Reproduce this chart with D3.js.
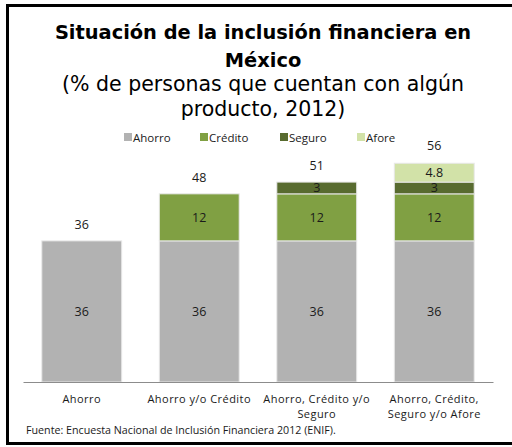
<!DOCTYPE html>
<html>
<head>
<meta charset="utf-8">
<script src="https://cdn.jsdelivr.net/npm/d3@7"></script>
<style>
  body { margin: 0; background: #fff; }
  text { font-family: "Open Sans", "DejaVu Sans", sans-serif; fill: #1a1a1a; }
  .ttl { font-family: "DejaVu Sans", sans-serif; fill: #000; }
</style>
</head>
<body>
<svg id="CHART"></svg>
<script>
// categorias y series
var categories = ["Ahorro", "Ahorro y/o Crédito", "Ahorro, Crédito y/o Seguro", "Ahorro, Crédito, Seguro y/o Afore"];
var categoryLines = [["Ahorro"], ["Ahorro y/o Crédito"], ["Ahorro, Crédito y/o", "Seguro"], ["Ahorro, Crédito,", "Seguro y/o Afore"]];
var seriesNames = ["Ahorro", "Crédito", "Seguro", "Afore"];
var ahorro = [36, 36, 36, 36];
var credito = [0, 12, 12, 12];
var seguro = [0, 0, 3, 3];
var afore = [0, 0, 0, 4.8];
var totals = [36, 48, 51, 56];

var colors = { "Ahorro": "#b2b2b2", "Crédito": "#80a043", "Seguro": "#586b2f", "Afore": "#d2e2a8" };

var width = 512, height = 447;
var svg = d3.select("#CHART").attr("width", width).attr("height", height);

// marco
svg.append("rect")
  .attr("x", 7.5).attr("y", 5.5)
  .attr("width", 520).attr("height", 438)
  .attr("fill", "none").attr("stroke", "#000").attr("stroke-width", 3);

// titulos
var titleLines = ["Situación de la inclusión financiera en", "México"];
var subLines = ["(% de personas que cuentan con algún", "producto, 2012)"];
titleLines.forEach(function (t, i) {
  svg.append("text").attr("class", "ttl").attr("x", 263).attr("y", 39 + i * 28)
    .attr("text-anchor", "middle")
    .style("font-size", "19.4px").style("font-weight", "bold")
    .text(t);
});
subLines.forEach(function (t, i) {
  svg.append("text").attr("class", "ttl").attr("x", 263).attr("y", 91 + i * 25)
    .attr("text-anchor", "middle")
    .style("font-size", "20.5px")
    .text(t);
});

var table = categories.map(function (c, i) {
  return { cat: c, "Ahorro": ahorro[i], "Crédito": credito[i], "Seguro": seguro[i], "Afore": afore[i] };
});
var stacked = d3.stack().keys(seriesNames)(table);

var x = d3.scaleBand().domain(categories).range([23, 493]).paddingInner(0.32).paddingOuter(0.16);
var y = d3.scaleLinear().domain([0, 60]).range([382, 382 - 60 * 3.92]);

var layers = svg.append("g").selectAll("g")
  .data(stacked)
  .join("g")
  .attr("fill", function (d) { return colors[d.key]; });

layers.selectAll("rect")
  .data(function (d) { return d.filter(function (s) { return s[1] - s[0] > 0; }); })
  .join("rect")
  .attr("x", function (d) { return x(d.data.cat); })
  .attr("y", function (d) { return y(d[1]); })
  .attr("width", x.bandwidth())
  .attr("height", function (d) { return y(d[0]) - y(d[1]); })
  .attr("stroke", "#e8e8e8").attr("stroke-width", 1);

layers.selectAll("text")
  .data(function (d) { return d.filter(function (s) { return s[1] - s[0] > 0; }); })
  .join("text")
  .attr("x", function (d) { return x(d.data.cat) + x.bandwidth() / 2; })
  .attr("y", function (d) { return (y(d[0]) + y(d[1])) / 2; })
  .attr("dy", "0.36em")
  .attr("text-anchor", "middle")
  .style("font-size", "12.5px")
  .text(function (d) { return +(d[1] - d[0]).toFixed(1); });

// totales
svg.append("g").selectAll("text")
  .data(totals)
  .join("text")
  .attr("x", function (d, i) { return x(categories[i]) + x.bandwidth() / 2; })
  .attr("y", function (d) { return y(d) - 12; })
  .attr("text-anchor", "middle")
  .style("font-size", "12.5px")
  .text(function (d) { return d; });

// eje x
var axis = svg.append("g").attr("transform", "translate(0,382)")
  .call(d3.axisBottom(x).tickSize(0).tickFormat(""));
axis.select(".domain").attr("stroke", "#8c8c8c").attr("stroke-width", 1);
axis.selectAll(".tick").each(function (c, i) {
  var t = d3.select(this).append("text")
    .attr("text-anchor", "middle")
    .style("font-size", "11px").style("letter-spacing", "0.45px");
  categoryLines[i].forEach(function (line, j) {
    t.append("tspan").attr("x", 0).attr("y", 21 + j * 15).text(line);
  });
});

// leyenda
var legendX = [124, 200, 280, 357];
var legend = svg.append("g").selectAll("g")
  .data(seriesNames)
  .join("g")
  .attr("transform", function (d, i) { return "translate(" + legendX[i] + ",133)"; });
legend.append("rect").attr("width", 8).attr("height", 8)
  .attr("fill", function (d) { return colors[d]; });
legend.append("text").attr("x", 9).attr("y", 8.5)
  .style("font-size", "11.5px")
  .text(function (d) { return d; });

// fuente
svg.append("text").attr("x", 26).attr("y", 434)
  .style("font-size", "10.7px")
  .text("Fuente: Encuesta Nacional de Inclusión Financiera 2012 (ENIF).");
</script>
</body>
</html>
